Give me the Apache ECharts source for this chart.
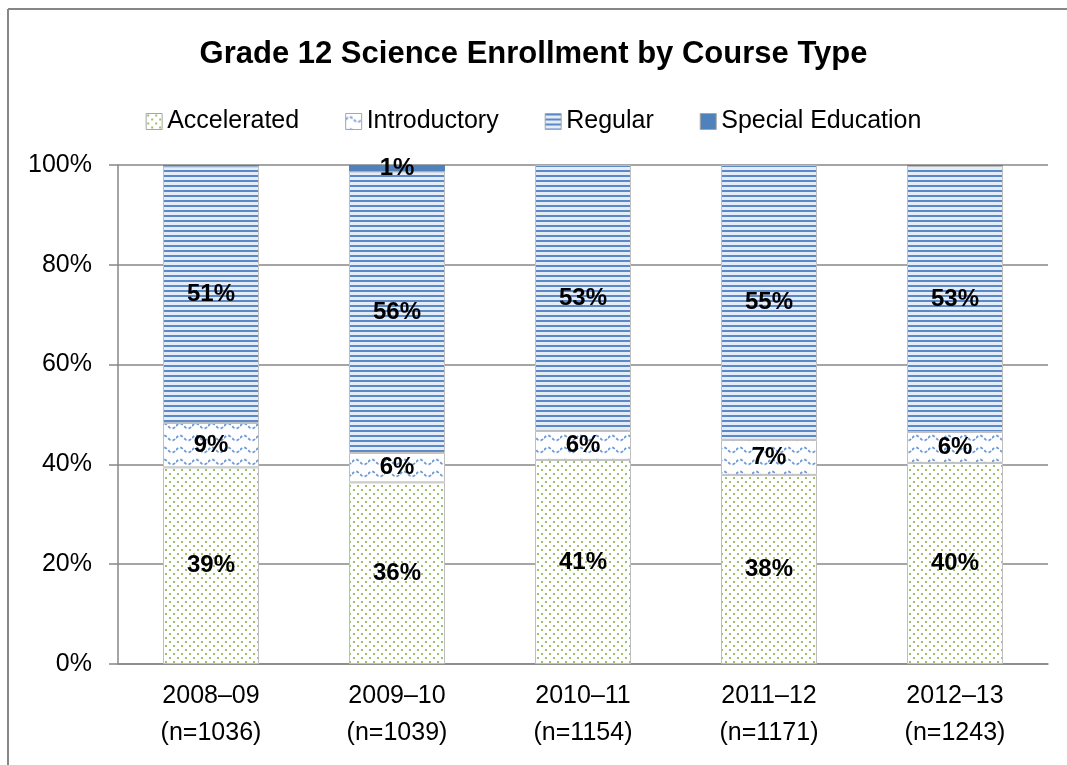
<!DOCTYPE html>
<html>
<head>
<meta charset="utf-8">
<script src="https://cdn.jsdelivr.net/npm/echarts@6/dist/echarts.min.js"></script>
<style>
  html, body { margin: 0; padding: 0; background: #fff; }
  #chart { width: 1067px; height: 765px; }
</style>
</head>
<body>
<div id="chart"></div>
<script>
;(function () {
  // data
  var years = ['2008–09', '2009–10', '2010–11', '2011–12', '2012–13'];
  var counts = [1036, 1039, 1154, 1171, 1243];
  var seriesNames = ['Accelerated', 'Introductory', 'Regular', 'Special Education'];
  var accelerated = [39.4, 36.4, 40.9, 37.9, 40.3];
  var introductory = [8.9, 5.9, 5.8, 7.0, 6.2];
  var regular = [51.4, 56.4, 53.3, 55.1, 53.3];
  var specialEd = [0.3, 1.3, 0, 0, 0.2];
  var yTicks = [0, 20, 40, 60, 80, 100];

  var FONT = 'Liberation Sans';

  // fill patterns (Excel-like)
  function makeCanvas(w, h) {
    var c = document.createElement('canvas');
    c.width = w; c.height = h;
    return c;
  }
  function dotPattern() {
    var c = makeCanvas(8, 8), g = c.getContext('2d');
    g.fillStyle = '#ffffff'; g.fillRect(0, 0, 8, 8);
    g.fillStyle = '#9bc26a';
    g.fillRect(1, 1, 2, 2);
    g.fillRect(5, 5, 2, 2);
    return c;
  }
  function wavePattern() {
    var c = makeCanvas(16, 12), g = c.getContext('2d');
    g.fillStyle = '#ffffff'; g.fillRect(0, 0, 16, 12);
    g.strokeStyle = '#6f99d2'; g.lineWidth = 1.8;
    g.setLineDash([3, 2]);
    g.beginPath();
    for (var x = 0; x <= 16; x += 0.5) {
      var y = 6 - 2.5 * Math.sin(2 * Math.PI * x / 16);
      if (x === 0) g.moveTo(x, y); else g.lineTo(x, y);
    }
    g.stroke();
    return c;
  }
  function stripePattern() {
    var c = makeCanvas(4, 5), g = c.getContext('2d');
    g.fillStyle = '#e4ecf7'; g.fillRect(0, 0, 4, 5);
    g.fillStyle = '#5b89c8'; g.fillRect(0, 0, 4, 2);
    return c;
  }

  var fills = [
    { image: dotPattern(), repeat: 'repeat' },
    { image: wavePattern(), repeat: 'repeat' },
    { image: stripePattern(), repeat: 'repeat' },
    '#4f81bd'
  ];
  var dataSets = [accelerated, introductory, regular, specialEd];

  var series = dataSets.map(function (d, i) {
    return {
      name: seriesNames[i],
      type: 'bar',
      stack: 'total',
      barWidth: 96,
      data: d,
      itemStyle: { color: fills[i], borderColor: '#bfbfbf', borderWidth: i === 3 ? 0 : 1 },
      label: {
        show: true,
        position: 'inside',
        fontFamily: FONT,
        fontWeight: 'bold',
        fontSize: 24,
        color: '#000',
        formatter: function (p) {
          return p.value < 0.5 ? '' : Math.round(p.value) + '%';
        }
      }
    };
  });

  var myChart = echarts.init(document.getElementById('chart'));

  var option = {
    backgroundColor: '#fff',
    animation: false,
    title: {
      text: 'Grade 12 Science Enrollment by Course Type',
      left: 'center',
      top: 34,
      textStyle: { fontFamily: FONT, fontWeight: 'bold', fontSize: 31, color: '#000' }
    },
    legend: {
      top: 104,
      left: 'center',
      itemGap: 46,
      itemWidth: 16,
      itemHeight: 16,
      data: seriesNames.map(function (n) {
        return { name: n, icon: 'rect', itemStyle: { borderColor: '#a6a6a6', borderWidth: 1 } };
      }),
      textStyle: { fontFamily: FONT, fontSize: 25, color: '#000', padding: [0, 0, 0, 0] }
    },
    grid: { left: 118, right: 19, top: 165, bottom: 101 },
    xAxis: {
      type: 'category',
      data: years.map(function (y, i) { return y + '\n(n=' + counts[i] + ')'; }),
      axisLine: { lineStyle: { color: '#878787', width: 1.5 } },
      axisTick: { show: false },
      axisLabel: { fontFamily: FONT, fontSize: 25, color: '#000', lineHeight: 37, margin: 14 }
    },
    yAxis: {
      type: 'value',
      min: 0,
      max: 100,
      interval: 20,
      axisLine: { show: true, lineStyle: { color: '#878787', width: 1.5 } },
      axisTick: { show: true, length: 9, lineStyle: { color: '#878787', width: 1.5 } },
      splitLine: { lineStyle: { color: '#878787', width: 1.5 } },
      axisLabel: {
        fontFamily: FONT, fontSize: 25, color: '#000', margin: 26,
        formatter: function (v) { return yTicks.indexOf(v) >= 0 ? v + '%' : ''; }
      }
    },
    graphic: [
      { type: 'line', shape: { x1: 8, y1: 9, x2: 1067, y2: 9 }, style: { stroke: '#868686', lineWidth: 2 } },
      { type: 'line', shape: { x1: 8, y1: 9, x2: 8, y2: 765 }, style: { stroke: '#868686', lineWidth: 2 } }
    ],
    series: series
  };

  myChart.setOption(option);
})();
</script>
</body>
</html>
